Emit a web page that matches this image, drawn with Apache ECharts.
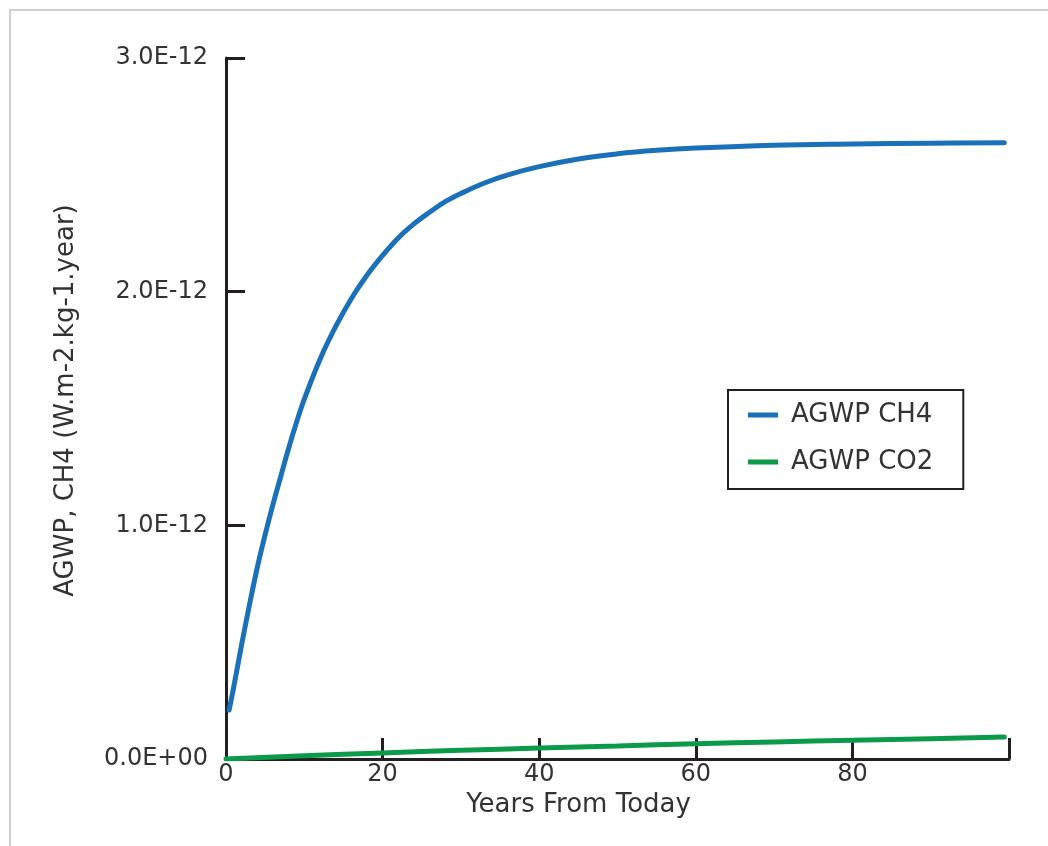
<!DOCTYPE html>
<html>
<head>
    <meta charset="utf-8">
    <title>AGWP CH4 vs CO2</title>
    <script src="https://cdn.jsdelivr.net/npm/echarts@6/dist/echarts.min.js"></script>
    <style>
        body { margin: 0; background: #fff; }
        #frame { position: absolute; left: 9px; top: 9px; width: 1100px; height: 900px;
                 border-top: 2px solid #cfcfcf; border-left: 2px solid #cfcfcf; }
        #main { position: absolute; left: 0; top: 0; width: 1048px; height: 846px; }
    </style>
</head>
<body>
<div id="frame"></div>
<div id="main"></div>
<script type="text/javascript">
    // values (years, W.m-2.kg-1.year, in units of 1E-12)
    var ch4Years = [0.4, 1, 2, 3, 4, 5, 6, 7, 8, 9, 10, 12, 14, 16, 18, 20, 22, 24, 26, 28, 30, 33, 36, 40, 45, 50, 55, 60, 70, 80, 90, 99.4];
    var ch4Values = [0.21, 0.31, 0.49, 0.66, 0.82, 0.96, 1.09, 1.21, 1.33, 1.44, 1.54, 1.71, 1.85, 1.97, 2.07, 2.155, 2.23, 2.29, 2.34, 2.385, 2.42, 2.465, 2.50, 2.535, 2.568, 2.59, 2.605, 2.615, 2.627, 2.632, 2.635, 2.637];
    var co2Years = [0, 10, 20, 30, 40, 50, 60, 70, 80, 90, 99.4];
    var co2Values = [0, 0.014, 0.026, 0.037, 0.047, 0.056, 0.065, 0.073, 0.080, 0.087, 0.094];
    var unit = 1e-12;

    var seriesNames = ['AGWP CH4', 'AGWP CO2'];
    var xTicks = [0, 20, 40, 60, 80, 100];
    var yTicks = [0, 1e-12, 2e-12, 3e-12];

    function pairs(xs, ys) {
        var out = [];
        for (var i = 0; i < xs.length; i++) {
            out.push([xs[i], ys[i] * unit]);
        }
        return out;
    }

    // 3e-12 -> "3.0E-12", 0 -> "0.0E+00"
    function sci(v) {
        if (v === 0) return '0.0E+00';
        var s = v.toExponential(1).split('e');
        var exp = parseInt(s[1], 10);
        var sign = exp < 0 ? '-' : '+';
        var a = Math.abs(exp);
        return s[0] + 'E' + sign + (a < 10 ? '0' + a : a);
    }

    var axisColor = '#231f20';
    var textColor = '#333333';
    var font = '"DejaVu Sans", "Open Sans", sans-serif';

    var myChart = echarts.init(document.getElementById('main'));

    var option = {
        animation: false,
        grid: { left: 226, right: 39, top: 58, bottom: 87 },
        legend: {
            orient: 'vertical',
            left: 728,
            top: 390,
            padding: [12, 30, 14, 20],
            borderColor: '#231f20',
            borderWidth: 2,
            itemWidth: 30,
            itemHeight: 5,
            itemGap: 21,
            icon: 'rect',
            textStyle: { fontSize: 26, color: textColor, fontFamily: font, padding: [0, 0, 0, 8] },
            data: seriesNames
        },
        xAxis: {
            type: 'value',
            min: xTicks[0],
            max: xTicks[xTicks.length - 1],
            interval: 20,
            name: 'Years From Today',
            nameLocation: 'middle',
            nameGap: 30,
            nameTextStyle: { fontSize: 26, color: textColor, fontFamily: font, padding: [0, 78, 0, 0] },
            axisLine: { lineStyle: { color: axisColor, width: 3 } },
            axisTick: { inside: true, length: 21, lineStyle: { color: axisColor, width: 3 } },
            axisLabel: {
                margin: 4, fontSize: 24, color: textColor, fontFamily: font,
                formatter: function (v) { return v === 100 ? '' : String(v); }
            },
            splitLine: { show: false }
        },
        yAxis: {
            type: 'value',
            min: yTicks[0],
            max: yTicks[yTicks.length - 1],
            interval: 1e-12,
            name: 'AGWP, CH4 (W.m-2.kg-1.year)',
            nameLocation: 'middle',
            nameGap: 147,
            nameTextStyle: { fontSize: 26, color: textColor, fontFamily: font, padding: [0, 0, 0, 16] },
            axisLine: { show: true, lineStyle: { color: axisColor, width: 3 } },
            axisTick: { show: true, inside: true, length: 19, lineStyle: { color: axisColor, width: 3 } },
            axisLabel: {
                margin: 18, fontSize: 24, color: textColor, fontFamily: font,
                padding: [6, 0, 0, 0],
                formatter: sci
            },
            splitLine: { show: false }
        },
        series: [
            {
                name: seriesNames[0],
                type: 'line',
                smooth: 0.4,
                showSymbol: false,
                itemStyle: { color: '#1b71b9' },
                lineStyle: { color: '#1b71b9', width: 5, cap: 'round' },
                data: pairs(ch4Years, ch4Values)
            },
            {
                name: seriesNames[1],
                type: 'line',
                smooth: true,
                showSymbol: false,
                itemStyle: { color: '#0b9a4a' },
                lineStyle: { color: '#0b9a4a', width: 5, cap: 'round' },
                data: pairs(co2Years, co2Values)
            }
        ]
    };

    myChart.setOption(option);
</script>
</body>
</html>
